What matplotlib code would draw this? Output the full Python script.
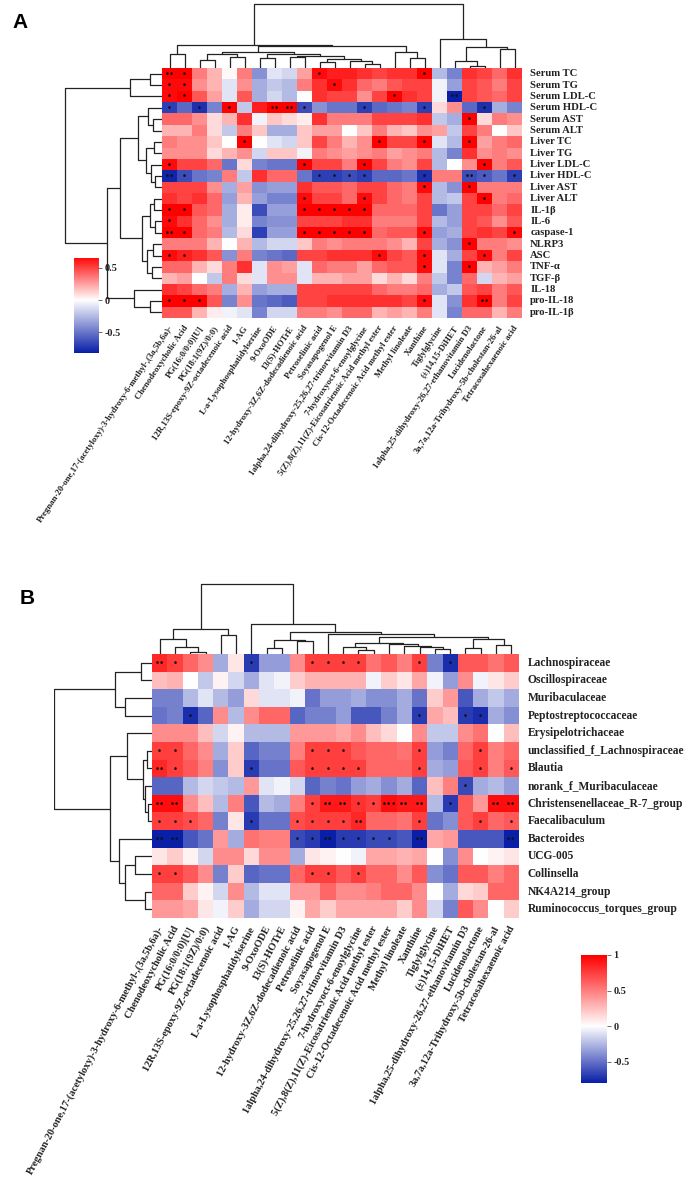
import numpy as np
import matplotlib
matplotlib.use("Agg")
import matplotlib.pyplot as plt
from matplotlib.colors import LinearSegmentedColormap, TwoSlopeNorm

# ---------------- data ----------------
metabolites = [
    "Pregnan-20-one,17-(acetyloxy)-3-hydroxy-6-methyl-,(3a,5b,6a)-",
    "Chenodeoxycholic Acid", "PG(16:0/0:0)[U]", "PG(18:1(9Z)/0:0)",
    "12R,13S-epoxy-9Z-octadecenoic acid", "1-AG", "L-a-Lysophosphatidylserine",
    "9-OxoODE", "13(S)-HOTrE", "12-hydroxy-3Z,6Z-dodecadienoic acid",
    "Petroselinic acid", "Soyasapogenol E",
    "1alpha,24-dihydroxy-25,26,27-trinorvitamin D3",
    "7-hydroxyoct-6-enoylglycine",
    "5(Z),8(Z),11(Z)-Eicosatrienoic Acid methyl ester",
    "Cis-12-Octadecenoic Acid methyl ester", "Methyl linoleate", "Xanthine",
    "Tiglylglycine", "(±)14,15-DiHET",
    "1alpha,25-dihydroxy-26,27-ethanovitamin D3", "Lucidenolactone",
    "3a,7a,12a-Trihydroxy-5b-cholestan-26-al", "Tetracosahexaenoic acid"]

rows_A = ["Serum TC", "Serum TG", "Serum LDL-C", "Serum HDL-C", "Serum AST",
          "Serum ALT", "Liver TC", "Liver TG", "Liver LDL-C", "Liver HDL-C",
          "Liver AST", "Liver ALT", "IL-1β", "IL-6", "caspase-1", "NLRP3", "ASC",
          "TNF-α", "TGF-β", "IL-18", "pro-IL-18", "pro-IL-1β"]

vals_A = [
    [0.75,0.7,0.35,0.2,0.02,0.35,-0.4,-0.1,-0.15,0.25,0.65,0.6,0.6,0.55,0.5,0.55,0.55,0.7,-0.25,-0.45,0.55,0.5,0.4,0.55],
    [0.65,0.65,0.3,0.2,-0.1,0.3,-0.3,-0.2,-0.25,0.35,0.55,0.65,0.55,0.4,0.35,0.45,0.5,0.5,-0.05,-0.35,0.5,0.45,0.35,0.5],
    [0.65,0.7,0.45,0.25,-0.1,0.45,-0.3,-0.15,-0.25,0.0,0.55,0.5,0.5,0.3,0.5,0.7,0.55,0.5,-0.05,-0.85,0.5,0.45,0.4,0.5],
    [-0.7,-0.55,-0.75,-0.45,0.7,-0.2,0.6,0.75,0.75,-0.65,-0.4,-0.5,-0.5,-0.7,-0.55,-0.5,-0.45,-0.7,0.1,0.3,-0.55,-0.75,-0.3,-0.45],
    [0.4,0.4,0.3,0.1,0.2,0.55,-0.05,0.15,0.1,0.05,0.55,0.35,0.35,0.35,0.5,0.5,0.5,0.55,-0.2,-0.3,0.7,0.1,0.35,0.3],
    [0.2,0.2,0.35,0.1,-0.2,0.35,0.15,-0.3,-0.3,0.15,0.25,0.25,0.0,0.15,0.35,0.2,0.15,0.3,0.25,-0.2,0.5,0.35,0.0,0.15],
    [0.35,0.3,0.3,0.15,0.0,0.7,0.0,-0.1,-0.15,0.15,0.5,0.35,0.2,0.3,0.7,0.5,0.5,0.7,-0.1,-0.25,0.7,0.25,0.35,0.4],
    [0.3,0.3,0.3,0.1,0.2,0.3,-0.15,0.15,0.15,-0.05,0.35,0.3,0.25,0.3,0.35,0.25,0.3,0.35,-0.25,-0.45,0.55,0.3,0.35,0.3],
    [0.65,0.5,0.5,0.4,-0.5,0.1,-0.45,-0.5,-0.5,0.7,0.5,0.5,0.35,0.7,0.5,0.35,0.3,0.5,-0.25,0.0,0.3,0.7,0.35,0.45],
    [-0.8,-0.65,-0.5,-0.45,0.35,-0.2,0.55,0.4,0.4,-0.5,-0.7,-0.7,-0.65,-0.7,-0.55,-0.55,-0.5,-0.75,0.35,0.35,-0.65,-0.6,-0.5,-0.7],
    [0.5,0.5,0.5,0.3,-0.3,0.25,-0.4,-0.35,-0.35,0.55,0.45,0.45,0.4,0.5,0.5,0.4,0.35,0.65,-0.25,-0.4,0.7,0.35,0.35,0.35],
    [0.55,0.5,0.55,0.4,-0.35,0.2,-0.35,-0.45,-0.45,0.65,0.5,0.5,0.4,0.65,0.5,0.4,0.35,0.5,-0.25,-0.2,0.5,0.7,0.35,0.4],
    [0.7,0.7,0.45,0.4,-0.3,0.05,-0.65,-0.35,-0.35,0.7,0.7,0.7,0.7,0.7,0.4,0.4,0.4,0.5,-0.5,-0.35,0.5,0.5,0.4,0.5],
    [0.65,0.55,0.4,0.3,-0.3,0.05,-0.45,-0.4,-0.4,0.5,0.5,0.5,0.55,0.55,0.35,0.35,0.35,0.5,-0.25,-0.35,0.5,0.45,0.3,0.45],
    [0.8,0.7,0.4,0.35,-0.25,0.1,-0.7,-0.35,-0.35,0.7,0.7,0.7,0.75,0.75,0.4,0.45,0.45,0.65,-0.35,-0.3,0.5,0.55,0.5,0.65],
    [0.35,0.35,0.35,0.2,0.0,0.2,-0.25,-0.15,-0.15,0.15,0.35,0.3,0.35,0.35,0.35,0.3,0.2,0.5,-0.3,-0.4,0.7,0.35,0.35,0.3],
    [0.65,0.6,0.55,0.45,-0.4,0.35,-0.45,-0.5,-0.55,0.5,0.5,0.55,0.55,0.55,0.65,0.5,0.45,0.65,-0.1,-0.3,0.5,0.65,0.35,0.5],
    [0.4,0.4,0.2,0.1,0.35,0.55,-0.1,0.3,0.25,-0.1,0.4,0.35,0.35,0.25,0.4,0.45,0.45,0.65,-0.1,-0.45,0.7,0.2,0.25,0.35],
    [0.2,0.25,0.0,-0.2,0.35,0.1,-0.1,0.3,0.3,-0.1,0.2,0.2,0.25,0.25,0.1,0.2,0.1,0.35,-0.2,-0.45,0.4,-0.15,0.2,0.25],
    [0.55,0.5,0.4,0.35,-0.3,0.2,-0.35,-0.3,-0.3,0.5,0.5,0.5,0.5,0.5,0.4,0.35,0.35,0.4,-0.3,-0.2,0.45,0.5,0.35,0.45],
    [0.7,0.7,0.7,0.45,-0.45,0.3,-0.5,-0.55,-0.6,0.5,0.5,0.55,0.55,0.55,0.55,0.55,0.5,0.65,-0.1,-0.4,0.55,0.8,0.35,0.5],
    [0.45,0.45,0.2,0.05,-0.05,-0.1,-0.45,-0.15,-0.15,0.35,0.35,0.3,0.4,0.4,0.2,0.25,0.2,0.35,-0.1,-0.45,0.4,0.4,0.2,0.35],
]
# number of significance marks per cell (0 = none)
sig_A = [
    "210000000010000001000000",
    "110000000001000000000000",
    "110000000000000100020000",
    "101010022100010001000100",
    "000000000000000000001000",
    "000000000000000000000000",
    "000001000000001001001000",
    "000000000000000000000000",
    "100000000100010000000100",
    "210000000011110001002101",
    "000000000000000001001000",
    "000000000100010000000100",
    "110000000111110000000000",
    "100000000000000000000000",
    "210000000111110001000001",
    "000000000000000000001000",
    "110000000000001001000100",
    "000000000000000001001000",
    "000000000000000000000000",
    "000000000000000000000000",
    "111000000000000001000200",
    "000000000000000000000000",
]

rows_B = ["Lachnospiraceae", "Oscillospiraceae", "Muribaculaceae",
          "Peptostreptococcaceae", "Erysipelotrichaceae",
          "unclassified_f_Lachnospiraceae", "Blautia", "norank_f_Muribaculaceae",
          "Christensenellaceae_R-7_group", "Faecalibaculum", "Bacteroides",
          "UCG-005", "Collinsella", "NK4A214_group", "Ruminococcus_torques_group"]

vals_B = [
    [0.85,0.75,0.6,0.45,-0.3,0.1,-0.7,-0.35,-0.35,0.45,0.75,0.75,0.75,0.75,0.55,0.65,0.5,0.75,-0.45,-0.75,0.65,0.65,0.55,0.65],
    [0.25,0.3,0.0,-0.2,0.05,-0.15,-0.3,-0.1,-0.05,0.2,0.3,0.3,0.3,0.3,-0.05,0.2,0.1,0.35,-0.05,-0.35,0.45,-0.05,0.1,0.2],
    [-0.45,-0.45,-0.25,-0.1,-0.25,-0.35,0.15,-0.1,-0.1,-0.05,-0.5,-0.35,-0.35,-0.3,-0.4,-0.4,-0.3,-0.5,0.2,0.4,-0.6,-0.3,-0.2,-0.3],
    [-0.5,-0.45,-0.75,-0.55,0.45,-0.25,0.45,0.6,0.6,-0.55,-0.45,-0.45,-0.35,-0.6,-0.6,-0.45,-0.3,-0.7,0.35,0.25,-0.7,-0.75,-0.3,-0.4],
    [0.45,0.45,0.45,0.25,-0.15,0.05,-0.25,-0.25,-0.25,0.4,0.4,0.4,0.35,0.45,0.25,0.15,0.0,0.45,-0.2,-0.2,0.45,0.55,0.0,0.25],
    [0.75,0.75,0.6,0.45,-0.3,0.2,-0.55,-0.45,-0.45,0.5,0.75,0.75,0.75,0.65,0.6,0.6,0.55,0.75,-0.35,-0.45,0.6,0.75,0.5,0.6],
    [0.85,0.75,0.65,0.5,-0.4,0.2,-0.7,-0.5,-0.5,0.65,0.75,0.75,0.75,0.75,0.6,0.6,0.6,0.75,-0.3,-0.35,0.65,0.75,0.5,0.65],
    [-0.55,-0.55,-0.25,-0.15,-0.2,-0.25,0.4,-0.1,-0.05,-0.15,-0.55,-0.45,-0.5,-0.35,-0.3,-0.4,-0.3,-0.55,0.25,0.5,-0.65,-0.3,-0.25,-0.35],
    [0.95,0.95,0.45,0.25,-0.25,0.5,-0.6,-0.25,-0.3,0.5,0.75,0.9,0.9,0.8,0.75,0.95,0.9,0.9,-0.25,-0.7,0.65,0.4,0.95,0.95],
    [0.75,0.75,0.7,0.6,-0.45,0.1,-0.7,-0.5,-0.5,0.7,0.75,0.75,0.75,0.85,0.6,0.6,0.55,0.75,-0.5,-0.4,0.65,0.75,0.6,0.65],
    [-0.85,-0.85,-0.6,-0.5,0.4,-0.3,0.55,0.5,0.5,-0.65,-0.7,-0.8,-0.7,-0.7,-0.65,-0.65,-0.6,-0.8,0.35,0.4,-0.6,-0.6,-0.6,-0.8],
    [0.1,0.2,0.05,-0.15,0.45,0.45,0.15,0.45,0.45,-0.3,0.1,0.05,0.0,-0.05,0.35,0.35,0.3,0.35,0.0,-0.4,0.45,0.0,0.05,0.1],
    [0.75,0.75,0.65,0.45,-0.45,0.2,-0.55,-0.5,-0.5,0.6,0.75,0.75,0.65,0.75,0.6,0.6,0.45,0.65,-0.4,-0.5,0.65,0.65,0.5,0.6],
    [0.6,0.6,0.2,0.05,-0.15,0.45,-0.25,-0.1,-0.1,0.4,0.4,0.6,0.45,0.45,0.5,0.6,0.6,0.45,0.0,-0.3,0.15,0.2,0.6,0.6],
    [0.4,0.4,0.35,0.1,-0.05,0.2,-0.3,-0.15,-0.15,0.05,0.35,0.2,0.35,0.35,0.35,0.35,0.2,0.45,-0.15,-0.45,0.65,0.45,0.0,0.2],
]
sig_B = [
    "210000100011110001010000",
    "000000000000000000000000",
    "000000000000000000000000",
    "001000000000000001001100",
    "000000000000000000000000",
    "110000000011100001000100",
    "210000100011110001000101",
    "000000000000000000001000",
    "220000000012211322010022",
    "111000100111120001000101",
    "220000000112111102000002",
    "000000000000000000000000",
    "110000000011010000000000",
    "000000000000000000000000",
    "000000000000000000000000",
]

# dendrogram trees: (left, right, height); leaves are 0-based indices
tree_colA = (((0, 1, 14.7),
              ((((2, 3, 7.7), (4, 5, 11.7), 14.0),
                ((6, 7, 10.0), ((8, 9, 11.0), ((10, 11, 6.0), (12, (13, 14, 4.0), 7.0), 9.0), 12.0), 14.0), 16.7),
               (15, (16, 17, 10.0), 16.0), 22.7), 23.7),
             (18, ((19, (20, 21, 2.3), 6.7), (22, 23, 19.0), 21.7), 30.0), 65.3)
tree_rowA = (((0, 1, 12.0), 2, 32.0),
             ((((3, (4, 5, 9.0), 14.0), ((6, 7, 8.0), (8, (9, 10, 7.0), 11.0), 16.0), 24.0),
               (((11, 12, 8.0), (13, 14, 7.0), 12.0), ((15, 16, 9.0), (17, 18, 10.0), 15.0), 20.0), 42.0),
              (19, (20, 21, 12.0), 28.0), 55.0), 97.0)
tree_colB = ((((0, (1, (2, 3, 1.7), 7.0), 15.3), (4, 5, 18.7), 25.3)),
             (6, (((7, 8, 6.0), (9, 10, 12.7), 14.3),
                  (11, (((12, (13, 14, 4.3), 7.0), (15, (16, (17, (18, 19, 5.0), 6.7), 8.5), 10.0), 11.0),
                        ((20, 21, 6.0), (22, 23, 9.3), 15.3), 17.0), 20.3), 22.0), 30.3), 70.3)
tree_rowB = (((0, 1, 11.0), (2, 3, 27.0), 37.0),
             ((4, ((5, 6, 5.0), (7, (8, 9, 4.0), 7.0), 9.0), 25.0),
              (10, ((11, 12, 17.0), (13, 14, 7.0), 27.0), 33.0), 42.0), 98.0)

# ---------------- styling ----------------
W, H = 692, 1193
fig = plt.figure(figsize=(W / 100, H / 100), dpi=100)
SERIF = ["Liberation Serif", "DejaVu Serif"]
cmap = LinearSegmentedColormap.from_list("bwr2", ["#0a1fa8", "#ffffff", "#ff0000"])
LINE = "#222222"


def add_ax(x0, y0, x1, y1):
    return fig.add_axes([x0 / W, 1 - y1 / H, (x1 - x0) / W, (y1 - y0) / H])


def tree_lines(node):
    """return (position, height, segments)"""
    if isinstance(node, int):
        return node + 0.5, 0.0, []
    left, right, h = node
    pl, hl, sl = tree_lines(left)
    pr, hr, sr = tree_lines(right)
    seg = [((pl, hl), (pl, h), (pr, h), (pr, hr))]
    return (pl + pr) / 2, h, sl + sr + seg


def draw_top_dendro(ax, tree, n, hmax):
    _, _, segs = tree_lines(tree)
    for s in segs:
        xs = [p[0] for p in s]
        ys = [p[1] for p in s]
        ax.plot(xs, ys, color=LINE, lw=0.9, solid_capstyle="butt")
    ax.set_xlim(0, n)
    ax.set_ylim(0, hmax)
    ax.axis("off")


def draw_left_dendro(ax, tree, n, hmax):
    _, _, segs = tree_lines(tree)
    for s in segs:
        ys = [p[0] for p in s]
        xs = [p[1] for p in s]
        ax.plot(xs, ys, color=LINE, lw=0.9, solid_capstyle="butt")
    ax.set_ylim(n, 0)
    ax.set_xlim(hmax, 0)
    ax.axis("off")


def draw_heat(ax, vals, sig, norm, rows, cols, col_pad, row_fs, col_fs, rot, xoff):
    v = np.array(vals)
    nr, nc = v.shape
    ax.pcolormesh(np.arange(nc + 1), np.arange(nr + 1), v, cmap=cmap, norm=norm,
                  edgecolors="none", antialiased=False)
    ax.set_xlim(0, nc)
    ax.set_ylim(nr, 0)
    ax.set_xticks([])
    ax.set_yticks([])
    for s in ax.spines.values():
        s.set_visible(False)
    for i in range(nr):
        for j in range(nc):
            k = int(sig[i][j])
            if k:
                ax.text(j + 0.5, i + 0.55, "•" * k, ha="center", va="center",
                        fontsize=6.3, color="#111111", family="DejaVu Sans")
    for i, r in enumerate(rows):
        ax.text(nc + 0.55, i + 0.5, r, ha="left", va="center", fontsize=row_fs,
                family=SERIF, fontweight="bold", color="#222222")
    for j, c in enumerate(cols):
        ax.text(j + xoff, nr + col_pad, c, ha="right", va="center", rotation=rot,
                rotation_mode="anchor", fontsize=col_fs, family=SERIF,
                fontweight="bold", color="#222222")


def draw_cbar(ax, norm, lo, hi, ticks, labels):
    g = np.linspace(lo, hi, 256).reshape(-1, 1)
    ax.imshow(g, aspect="auto", cmap=cmap, norm=norm, origin="lower",
              extent=[0, 1, lo, hi])
    ax.set_xlim(0, 1)
    ax.set_ylim(lo, hi)
    ax.set_xticks([])
    ax.yaxis.tick_right()
    ax.set_yticks(ticks)
    ax.set_yticklabels(labels, family=SERIF, fontweight="bold", fontsize=7.3,
                       color="#222222")
    ax.tick_params(axis="y", length=3, width=0.6, color="#555555", pad=1.5)
    for s in ax.spines.values():
        s.set_visible(False)


# ---------------- panel A ----------------
normA = TwoSlopeNorm(vmin=-0.82, vcenter=0.0, vmax=0.68)
axA = add_ax(162, 68, 522, 318)
draw_heat(axA, vals_A, sig_A, normA, rows_A, metabolites, 0.75, 7.7, 6.3, 56, 0.62)
axAt = add_ax(162, 3, 522, 68)
draw_top_dendro(axAt, tree_colA, 24, 66.5)
axAl = add_ax(62, 68, 162, 318)
draw_left_dendro(axAl, tree_rowA, 22, 100)
axAc = add_ax(74, 258, 98, 353)
draw_cbar(axAc, normA, -0.82, 0.65, [-0.5, 0, 0.5], ["-0.5", "0", "0.5"])
fig.text(12 / W, 1 - 22 / H, "A", fontsize=15, fontweight="bold",
         family="Liberation Sans", va="center", ha="left")

# ---------------- panel B ----------------
normB = TwoSlopeNorm(vmin=-0.8, vcenter=0.0, vmax=1.0)
axB = add_ax(152, 654, 519, 918)
draw_heat(axB, vals_B, sig_B, normB, rows_B, metabolites, 0.5, 8.3, 7.5, 62, 0.6)
axBt = add_ax(152, 583, 519, 654)
draw_top_dendro(axBt, tree_colB, 24, 71.5)
axBl = add_ax(54, 654, 152, 918)
draw_left_dendro(axBl, tree_rowB, 15, 98.5)
axBc = add_ax(581, 955, 607, 1083)
draw_cbar(axBc, normB, -0.8, 1.0, [-0.5, 0, 0.5, 1], ["-0.5", "0", "0.5", "1"])
fig.text(20 / W, 1 - 598 / H, "B", fontsize=15, fontweight="bold",
         family="Liberation Sans", va="center", ha="left")

fig.savefig("out.png", dpi=100, facecolor="white")
